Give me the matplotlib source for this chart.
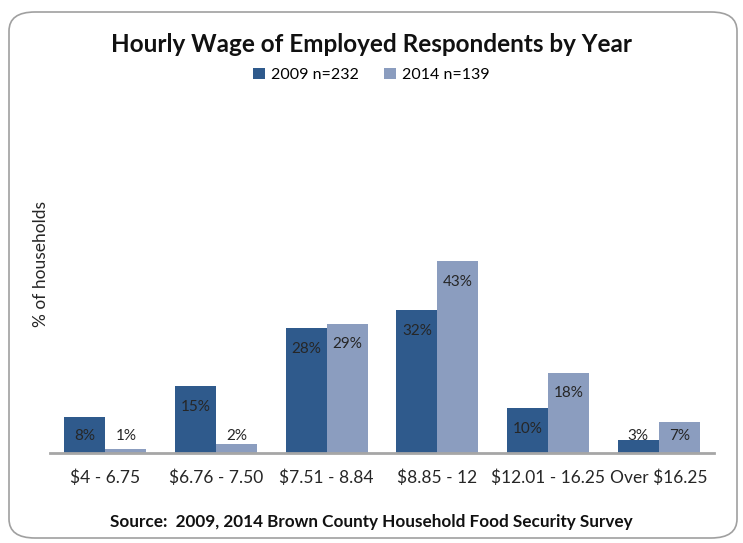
import numpy as np
import matplotlib.pyplot as plt
from matplotlib.patches import FancyBboxPatch

# Data
categories = ["$4 - 6.75", "$6.76 - 7.50", "$7.51 - 8.84", "$8.85 - 12",
              "$12.01 - 16.25", "Over $16.25"]
pct_2009 = [8, 15, 28, 32, 10, 3]
pct_2014 = [1, 2, 29, 43, 18, 7]
series_names = ["2009 n=232", "2014 n=139"]

dark = "#2F5A8C"
light = "#8B9DBF"
plt.rcParams['font.family'] = ['Lato', 'DejaVu Sans']

fig = plt.figure(figsize=(7.43, 5.43), dpi=100)
W, H = 743, 543

# rounded chart frame
frame = FancyBboxPatch((9 / W, 5 / H), 728 / W, 526 / H,
                       boxstyle="round,pad=0,rounding_size=0.035",
                       transform=fig.transFigure, facecolor="white",
                       edgecolor="#A0A0A0", linewidth=1.2, zorder=-5)
fig.patches.append(frame)

ax = fig.add_axes([50 / W, 1 - 453 / H, 664 / W, (453 - 87) / H])
ax.set_facecolor("none")
ax.set_zorder(2)

x = np.arange(len(categories))
w = 0.37
b1 = ax.bar(x - w / 2, pct_2009, w, color=dark, label=series_names[0])
b2 = ax.bar(x + w / 2, pct_2014, w, color=light, label=series_names[1])

ax.set_xlim(-0.5, len(categories) - 0.5)
ax.set_ylim(0, 82)

# value labels: just below top of bar, lifted for short bars
for bars, vals in [(b1, pct_2009), (b2, pct_2014)]:
    for bar, v in zip(bars, vals):
        y = max(v - 4.6, 3.9)
        ax.text(bar.get_x() + bar.get_width() / 2, y, f"{v}%",
                ha="center", va="center", fontsize=11, color="#262626")

for s in ["top", "right", "left"]:
    ax.spines[s].set_visible(False)
ax.spines["bottom"].set_color("#A6A6A6")
ax.spines["bottom"].set_linewidth(2)
ax.set_yticks([])
ax.set_xticks(x)
ax.set_xticklabels(categories, fontsize=12.5, color="#262626")
ax.tick_params(axis="x", length=0, pad=12)

fig.text(41 / W, 1 - 264 / H, "% of households", rotation=90,
         ha="center", va="center", fontsize=12.5, color="#262626")

fig.text(0.5, 1 - 45 / H, "Hourly Wage of Employed Respondents by Year",
         ha="center", va="center", fontsize=17.5, fontweight="bold", color="#111111")

fig.legend(loc="center", bbox_to_anchor=(0.5, 1 - 75 / H), ncol=2, frameon=False,
           fontsize=11.5, handlelength=0.7, handleheight=0.7, handletextpad=0.4,
           columnspacing=1.6)

fig.text(0.5, 1 - 522 / H, "Source:  2009, 2014 Brown County Household Food Security Survey",
         ha="center", va="center", fontsize=12.3, fontweight="bold", color="#111111")

fig.savefig("out.png", dpi=100)
